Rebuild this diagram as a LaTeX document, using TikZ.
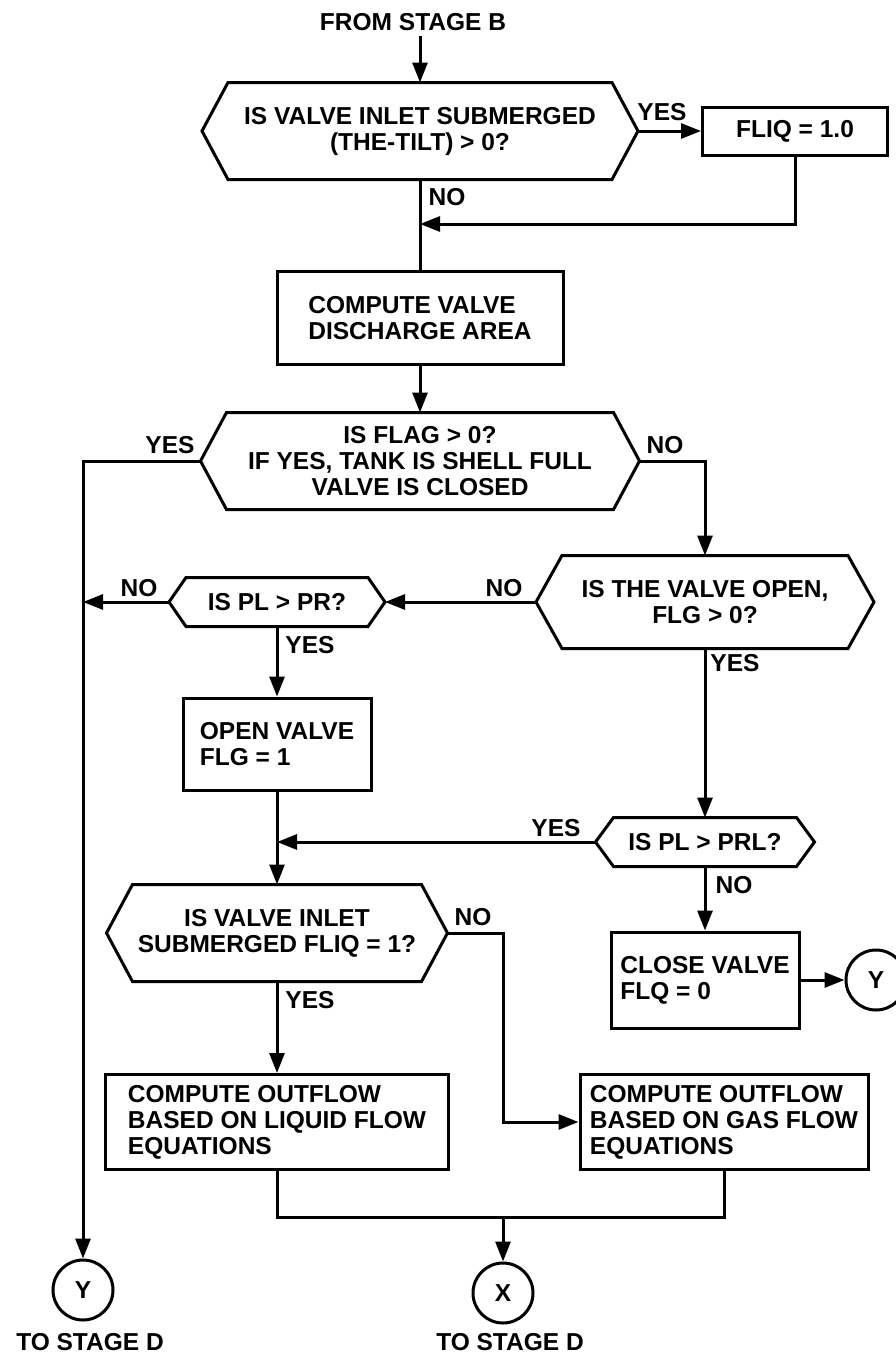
\documentclass[tikz,border=0pt]{standalone}
\usepackage{fontspec}
\setmainfont{Liberation Sans}
\usetikzlibrary{arrows.meta,calc}
\tikzset{
  base/.style={font=\fontsize{24.5}{26}\selectfont\bfseries},
  lbl/.style={base, inner sep=0pt},
  boxn/.style={base, draw, line width=3pt, align=left, inner sep=0pt},
  hexn/.style={base, align=center, inner sep=0pt, outer sep=0pt},
  hexline/.style={line width=3pt, line join=miter},
  conn/.style={line width=3pt},
  arr/.style={conn, -{Triangle[length=20pt,width=15pt]}},
  circn/.style={base, draw, circle, line width=3pt, minimum size=60pt, inner sep=0pt}
}
\newcommand\hexdraw[2]{\draw[hexline] ([xshift=#2]#1.north west) -- ([xshift=-#2]#1.north east) -- (#1.east) -- ([xshift=-#2]#1.south east) -- ([xshift=#2]#1.south west) -- (#1.west) -- cycle;}
\begin{document}
\begin{tikzpicture}[x=1pt,y=-1pt]
\useasboundingbox (0,0) rectangle (896,1355);
% top
\node[lbl] (from) at (413,22) {FROM STAGE B};
\coordinate (s0) at (420,36);
\node[hexn, minimum width=436pt, minimum height=97pt] (h1) at (420,131) {IS VALVE INLET SUBMERGED\\(THE-TILT) > 0?};
\hexdraw{h1}{26pt}
\draw[arr] (s0) -- (h1.north);
\node[boxn, align=center, minimum width=185pt, minimum height=48pt] (fliq) at (795,131) {FLIQ = 1.0};
\node[lbl] (l1) at (662,112) {YES};
\draw[arr] (h1.east) -- (fliq.west);
\coordinate (j1) at (420,224);
\draw[arr] (fliq.south) |- (j1);
\node[lbl] (l2) at (447,197) {NO};
\node[boxn, minimum width=286pt, minimum height=93pt] (comp) at (420,318) {COMPUTE VALVE\\DISCHARGE AREA};
\draw[conn] (h1.south) -- (comp.north);
% flag
\node[hexn, minimum width=439pt, minimum height=97pt] (h2) at (420,461) {IS FLAG > 0?\\IF YES, TANK IS SHELL FULL\\VALVE IS CLOSED};
\hexdraw{h2}{26pt}
\draw[arr] (comp.south) -- (h2.north);
\node[lbl] (l3) at (170,445) {YES};
\node[lbl] (l4) at (665,445) {NO};
% valve open
\node[hexn, minimum width=338pt, minimum height=93pt] (h3) at (705,602) {IS THE VALVE OPEN,\\FLG > 0?};
\hexdraw{h3}{26pt}
\draw[arr] (h2.east) -| (h3.north);
\node[lbl] (l5) at (504,588) {NO};
\node[hexn, minimum width=216pt, minimum height=49pt] (pr) at (277,602) {IS PL > PR?};
\hexdraw{pr}{17pt}
\draw[arr] (h3.west) -- (pr.east);
\node[lbl] (l6) at (139,588) {NO};
\node[circn] (yb) at (83,1290) {Y};
\draw[arr] (h2.west) -| (yb.north);
\coordinate (jL) at (83,602);
\draw[arr] (pr.west) -- (jL);
\node[lbl] (l7) at (310,645) {YES};
\node[boxn, minimum width=188pt, minimum height=92pt] (ov) at (277,744) {OPEN VALVE\\FLG = 1};
\draw[arr] (pr.south) -- (ov.north);
\node[lbl] (l8) at (735,663) {YES};
\node[hexn, minimum width=219pt, minimum height=49pt] (h4) at (705,842) {IS PL > PRL?};
\hexdraw{h4}{18pt}
\draw[arr] (h3.south) -- (h4.north);
\node[lbl] (l9) at (556,828) {YES};
\coordinate (j2) at (277,842);
\draw[arr] (h4.west) -- (j2);
\node[hexn, minimum width=341pt, minimum height=97pt] (h5) at (277,933) {IS VALVE INLET\\SUBMERGED FLIQ = 1?};
\hexdraw{h5}{26pt}
\draw[arr] (ov.south) -- (h5.north);
\node[lbl] (l10) at (734,885) {NO};
\node[boxn, minimum width=188pt, minimum height=96pt] (cv) at (705,980) {CLOSE VALVE\\FLQ = 0};
\draw[arr] (h4.south) -- (cv.north);
\node[circn] (yr) at (876,980) {Y};
\draw[arr] (cv.east) -- (yr.west);
\node[lbl] (l11) at (310,1000) {YES};
\node[lbl] (l12) at (473,917) {NO};
\node[boxn, minimum width=343pt, minimum height=95pt] (lq) at (277,1122) {COMPUTE OUTFLOW\\BASED ON LIQUID FLOW\\EQUATIONS};
\node[boxn, minimum width=288pt, minimum height=95pt] (gas) at (724,1122) {COMPUTE OUTFLOW\\BASED ON GAS FLOW\\EQUATIONS};
\draw[arr] (h5.south) -- (lq.north);
\coordinate (k1) at (503,933);
\draw[arr] (h5.east) -- (k1) |- (gas.west);
\coordinate (m1) at (503,1217);
\draw[conn] (lq.south) |- (m1) -| (gas.south);
\node[circn] (xc) at (503,1293) {X};
\draw[arr] (m1) -- (xc.north);
\node[lbl] (t1) at (90,1342) {TO STAGE D};
\node[lbl] (t2) at (510,1342) {TO STAGE D};
\end{tikzpicture}
\end{document}
